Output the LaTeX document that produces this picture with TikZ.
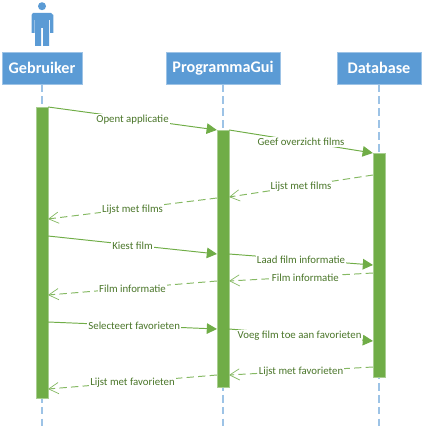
\documentclass[tikz,border=0pt]{standalone}
\usepackage{fontspec}
\usepackage{xcolor}
\setmainfont{Carlito}
\usetikzlibrary{arrows.meta}
\definecolor{boxblue}{HTML}{5B9BD5}
\definecolor{lifeblue}{HTML}{9DC3E6}
\definecolor{barGreen}{HTML}{70AD47}
\definecolor{textGreen}{HTML}{4A7629}

\begin{document}
\begin{tikzpicture}[x=0.02cm,y=-0.02cm,
        actor/.style={fill=boxblue,draw=boxblue!60,line width=0.2pt,text=white,font=\bfseries\fontsize{9.2}{11}\selectfont,minimum height=0.64cm,inner sep=0pt},
        lifeline/.style={lifeblue,line width=0.7pt,dash pattern=on 4.4pt off 2.4pt},
        activation/.style={fill=barGreen,draw=barGreen!60,line width=0.2pt,minimum width=0.24cm,inner sep=0pt,anchor=north},
        msglabel/.style={fill=white,text=textGreen,font=\fontsize{6.15}{8}\selectfont,inner sep=0.6pt,yshift=-0.4pt},
        call/.style={barGreen,line width=0.55pt,-{Triangle[length=5.8pt,width=6pt]}},
        reply/.style={barGreen!85,line width=0.55pt,dash pattern=on 4.2pt off 2.4pt,-{Straight Barb[length=5.6pt,width=6.4pt,line width=0.4pt]}}]
                \useasboundingbox (0,0) rectangle (423,435);
                % actor figure
                \fill[boxblue] (42,6.2) circle (4);
                \fill[boxblue] (33,13) -- (51,13) -- (53.3,15) -- (53.3,33) -- (50,33) -- (50,20) -- (49,20) -- (49,46) -- (43,46) -- (43,28) -- (41,28) -- (41,46) -- (35,46) -- (35,20) -- (34.5,20) -- (34.5,33) -- (31.5,33) -- (31.5,15) -- cycle;
                % headers
                \node[actor,minimum width=1.6cm] (gebruiker) at (42,68) {Gebruiker};
                \node[actor,minimum width=2.28cm] (programma) at (223,68) {ProgrammaGui};
                \node[actor,minimum width=1.68cm] (database) at (379,68) {Database};
                % lifelines
                \coordinate (gebruikerEnd) at (42,428);
                \coordinate (programmaEnd) at (223,428);
                \coordinate (databaseEnd) at (379,428);
                \draw[lifeline] (gebruiker.south) -- (gebruikerEnd);
                \draw[lifeline] (programma.south) -- (programmaEnd);
                \draw[lifeline] (database.south) -- (databaseEnd);
                % activation bars
                \node[activation,minimum height=5.82cm] (barG) at (42,107) {};
                \node[activation,minimum height=5.14cm] (barP) at (223,130) {};
                \node[activation,minimum height=4.48cm] (barD) at (379,153) {};
                % message ends
                \coordinate (gA) at (48,236);
                \coordinate (pA) at (217,254);
                \coordinate (pB) at (229,254);
                \coordinate (dB) at (373,265);
                \coordinate (dC) at (373,175);
                \coordinate (pC) at (229,197);
                \coordinate (pD) at (217,198);
                \coordinate (gD) at (48,219);
                \coordinate (dE) at (373,273);
                \coordinate (pE) at (229,281);
                \coordinate (pF) at (217,281);
                \coordinate (gF) at (48,295);
                \coordinate (gG) at (48,322);
                \coordinate (pG) at (217,329);
                \coordinate (pH) at (229,329);
                \coordinate (dH) at (373,341);
                \coordinate (dI) at (373,367);
                \coordinate (pI) at (229,375);
                \coordinate (pJ) at (217,375);
                \coordinate (gJ) at (48,389);
                % messages
                \draw[call] (barG.north east) -- (barP.north west) node[msglabel,midway] (lblOpent) {Opent applicatie};
                \draw[call] (barP.north east) -- (barD.north west) node[msglabel,midway] (lblGeef) {Geef overzicht films};
                \draw[reply] (dC) -- (pC) node[msglabel,midway] (lblLijstA) {Lijst met films};
                \draw[reply] (pD) -- (gD) node[msglabel,midway] (lblLijstB) {Lijst met films};
                \draw[call] (gA) -- (pA) node[msglabel,midway] (lblKiest) {Kiest film};
                \draw[call] (pB) -- (dB) node[msglabel,midway] (lblLaad) {Laad film informatie};
                \draw[reply] (dE) -- (pE) node[msglabel,pos=0.47] (lblFilmA) {Film informatie};
                \draw[reply] (pF) -- (gF) node[msglabel,midway] (lblFilmB) {Film informatie};
                \draw[call] (gG) -- (pG) node[msglabel,pos=0.51] (lblSelect) {Selecteert favorieten};
                \draw[call] (pH) -- (dH) node[msglabel,pos=0.49] (lblVoeg) {Voeg film toe aan favorieten};
                \draw[reply] (dI) -- (pI) node[msglabel,pos=0.5] (lblFavA) {Lijst met favorieten};
                \draw[reply] (pJ) -- (gJ) node[msglabel,midway] (lblFavB) {Lijst met favorieten};
\end{tikzpicture}
\end{document}
